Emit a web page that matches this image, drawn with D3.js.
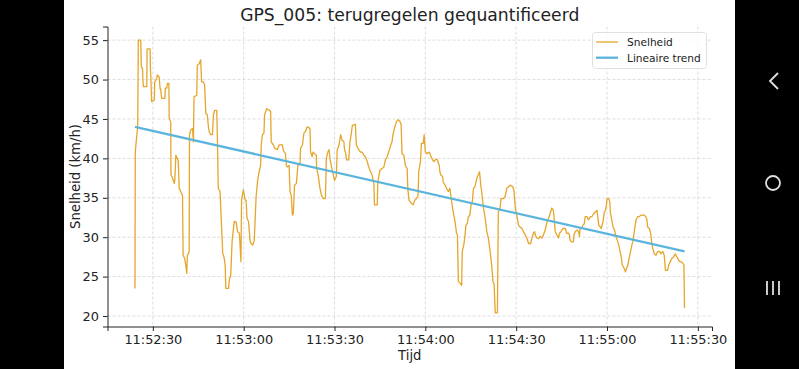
<!DOCTYPE html>
<html><head><meta charset="utf-8">
<script src="https://cdn.jsdelivr.net/npm/d3@7"></script>
<style>body{margin:0;background:#000}svg{display:block}text{font-family:"DejaVu Sans",sans-serif}</style>
</head><body>
<svg id="c" width="799" height="369"></svg>
<script>
// seconds after 11:52:00
const secs = [24.1,24.2,24.5,25.0,25.2,26.0,26.2,26.6,26.7,26.9,28.0,28.1,29.1,29.2,29.3,29.6,30.5,30.6,31.0,31.3,31.5,32.1,32.4,32.6,32.9,34.0,34.1,34.6,34.8,35.3,35.4,35.9,36.0,36.5,37.1,37.3,37.6,38.1,38.4,38.7,39.2,39.8,40.0,40.5,40.9,41.2,41.4,42.0,42.1,42.5,43.1,43.4,43.6,44.5,44.7,45.3,45.8,46.1,46.7,47.1,47.5,48.0,48.3,48.6,49.1,49.7,50.0,50.4,51.1,51.3,51.6,52.2,52.6,53.1,53.5,53.9,54.1,55.0,55.3,55.7,56.2,56.9,57.5,58.0,58.6,59.1,59.3,59.9,60.5,60.8,61.1,61.6,62.1,62.4,63.0,63.5,64.1,64.6,65.1,65.6,65.8,66.2,66.7,66.9,67.6,68.9,69.1,69.8,70.2,71.1,71.7,72.8,73.1,73.8,74.1,74.4,75.0,75.3,75.7,76.1,76.4,76.8,77.4,77.9,78.6,78.8,79.4,79.9,80.4,81.0,81.9,82.1,82.6,82.9,83.4,84.0,84.1,84.6,85.2,85.7,86.3,87.0,87.3,87.8,88.2,88.5,88.9,89.6,90.0,90.6,90.9,91.5,92.0,92.5,93.1,93.3,93.6,94.0,94.7,95.1,95.5,95.9,96.9,97.2,98.0,98.6,99.1,99.7,100.2,100.8,101.3,101.9,102.4,103.0,103.2,104.1,104.3,105.0,105.7,106.3,106.8,107.4,107.9,108.5,109.0,109.3,109.8,110.4,110.9,111.6,112.0,112.3,112.9,113.4,114.0,114.2,114.6,115.4,116.0,116.5,117.1,117.6,117.8,118.4,118.7,119.3,119.6,120.0,120.6,121.3,121.7,122.4,122.8,123.5,124.0,124.3,124.6,124.8,125.1,125.7,125.9,126.5,127.0,127.6,128.1,128.7,129.0,129.4,129.8,130.3,130.6,130.9,131.4,132.0,132.2,132.7,133.1,133.4,133.9,134.2,134.7,135.1,135.5,135.9,136.4,136.7,137.2,137.5,137.9,138.3,138.6,139.2,139.7,140.3,140.8,141.4,142.0,142.3,142.7,143.1,143.8,144.1,144.7,145.0,145.8,146.3,146.9,147.5,148.0,148.9,149.3,149.7,150.2,150.8,151.3,151.9,152.4,153.0,153.5,154.1,154.8,155.2,155.7,156.1,156.3,156.8,157.4,157.9,158.5,159.0,159.6,160.1,160.7,161.2,161.8,162.3,162.5,162.9,163.4,164.0,164.3,164.8,165.4,166.2,166.7,167.3,167.6,167.8,168.4,168.9,169.1,169.5,170.0,170.6,170.9,171.1,171.7,172.0,172.5,172.8,173.4,173.9,174.5,175.0,175.6,176.1,176.7,177.3,177.8,178.1,178.7,179.1,179.5,179.8,180.0,180.6,180.9,181.1,181.7,182.0,182.5,182.8,183.4,183.9,184.3,184.7,185.0,185.6,186.1,186.5,186.9,187.3,187.8,188.2,188.5,189.0,189.3,189.6,190.1,190.6,191.2,191.7,192.3,192.8,193.2,193.4,194.0,194.5,194.8,195.1,195.6,196.2,196.7,197.3,197.8,198.4,198.9,199.3,200.0,200.4,200.9,201.4,202.0,202.5,202.8,203.4,203.9,204.5,205.0,205.4,205.6];
// Snelheid (km/h)
const speed = [23.5,40.8,42.1,44.0,55.0,55.0,51.6,51.4,50.0,49.1,49.1,53.9,53.9,51.4,50.6,47.2,47.4,49.7,49.9,50.2,50.6,50.3,48.8,48.8,47.6,47.6,48.9,48.9,49.5,49.5,45.1,44.6,37.9,37.5,36.8,37.5,40.4,40.0,39.6,36.2,35.8,35.3,27.7,27.3,26.4,25.4,27.7,28.1,43.0,43.6,43.8,42.1,47.8,48.0,51.8,52.0,52.5,49.7,49.7,49.3,45.7,45.5,44.2,43.4,43.0,43.0,45.5,46.1,46.1,43.0,36.2,35.8,32.2,27.9,27.5,26.4,23.5,23.5,24.8,25.0,29.6,32.0,31.9,30.7,30.5,26.9,34.7,36.0,34.7,34.7,32.4,32.0,29.6,29.2,29.0,29.6,35.1,37.2,38.3,39.1,41.7,43.0,43.2,45.5,46.3,46.0,42.1,41.7,41.3,41.1,41.7,41.7,41.0,40.6,39.1,38.9,39.1,35.8,35.3,32.8,33.0,36.6,36.8,39.1,39.3,41.3,41.7,43.2,43.4,44.0,43.8,40.8,40.2,40.8,40.6,40.4,38.7,37.9,36.2,35.3,34.9,34.9,40.0,40.8,41.1,40.0,39.1,37.9,37.2,37.7,41.1,41.7,43.0,42.3,42.1,41.1,40.8,39.8,39.8,42.1,43.0,44.2,44.3,41.7,41.1,40.8,40.8,40.4,40.2,39.6,38.9,38.3,37.9,36.8,34.1,34.1,37.0,38.5,38.7,38.9,39.8,40.2,40.8,41.6,42.1,43.0,43.8,44.6,44.9,44.7,44.3,40.6,40.4,39.1,38.7,36.2,34.7,34.3,34.1,34.7,34.9,35.3,38.3,39.6,41.9,41.9,43.0,40.8,40.6,40.8,40.4,39.8,39.6,39.9,39.8,39.4,39.1,38.3,37.9,37.7,37.0,36.6,36.2,35.8,36.2,34.5,33.7,32.8,32.0,30.5,30.3,24.4,24.2,23.9,28.2,29.0,30.3,31.5,31.8,32.6,32.8,34.1,34.5,36.2,36.4,37.0,37.7,37.9,38.3,36.6,35.8,33.7,32.6,30.7,29.9,28.2,26.1,24.4,24.0,20.4,20.4,33.2,33.7,34.9,34.9,35.1,36.2,36.4,36.6,36.4,35.8,33.7,32.8,31.5,31.3,31.1,30.7,30.3,29.9,29.2,29.2,29.9,30.5,30.7,30.3,29.9,29.8,30.1,29.9,30.3,30.9,31.8,32.4,33.0,33.7,33.4,32.6,30.7,30.3,29.9,30.5,30.7,31.1,31.1,30.5,30.5,30.3,29.6,29.4,29.4,30.3,30.7,30.9,30.7,30.1,31.1,31.1,31.5,31.7,32.6,32.6,32.2,32.6,32.6,33.0,33.2,33.4,31.5,31.3,31.1,32.0,33.2,33.4,34.1,34.9,34.9,34.5,33.2,31.9,31.3,30.9,30.3,29.6,29.0,28.2,27.5,26.5,26.1,25.6,26.1,26.5,27.3,28.2,29.0,29.4,30.7,31.5,32.2,32.6,32.6,32.8,32.8,32.8,32.6,32.2,31.3,31.1,30.3,29.2,28.6,27.9,27.7,28.2,28.2,27.9,28.2,27.7,25.8,25.8,26.5,26.9,27.3,27.5,27.9,27.7,27.3,26.9,26.9,26.7,26.5,21.0];
// Lineaire trend: value at first and last sample
const trendValues = [44.0, 28.2];
const xTickLabels = ["11:52:30","11:53:00","11:53:30","11:54:00","11:54:30","11:55:00","11:55:30"];
const yTicks = [20,25,30,35,40,45,50,55];
const legendLabels = ["Snelheid","Lineaire trend"];
const colors = ["#E5A62B","#5BB4DC"];

const base = new Date(2024,0,1,11,52,0);
const toDate = s => new Date(base.getTime() + s*1000);
const n = Math.min(secs.length, speed.length);
const data = d3.range(n).map(i => ({t: toDate(secs[i]), v: speed[i]}));

const svg = d3.select("#c");
// phone frame
svg.append("rect").attr("x",0).attr("y",0).attr("width",799).attr("height",369).attr("fill","#000");
svg.append("rect").attr("x",64).attr("y",0).attr("width",671).attr("height",369).attr("fill","#fff");

const L=107.5, R=712, T=26.5, B=326.5;
const tExt = d3.extent(data, d=>d.t);
const tPad = (tExt[1]-tExt[0])*0.05;
const x = d3.scaleTime().domain([new Date(+tExt[0]-tPad), new Date(+tExt[1]+tPad)]).range([L,R]);
const vExt = d3.extent(data, d=>d.v);
const vPad = (vExt[1]-vExt[0])*0.05;
const y = d3.scaleLinear().domain([vExt[0]-vPad, vExt[1]+vPad]).range([B,T]);

const parseT = d3.timeParse("%H:%M:%S");
const xTicks = xTickLabels.map(s => { const p = parseT(s); return new Date(2024,0,1,p.getHours(),p.getMinutes(),p.getSeconds()); });

// grid
const g = svg.append("g");
g.selectAll(".gx").data(xTicks).join("line")
 .attr("x1",d=>x(d)).attr("x2",d=>x(d)).attr("y1",T).attr("y2",B)
 .attr("stroke","#d4d4d4").attr("stroke-width",0.8).attr("stroke-dasharray","3,2");
g.selectAll(".gy").data(yTicks).join("line")
 .attr("x1",L).attr("x2",R).attr("y1",d=>y(d)).attr("y2",d=>y(d))
 .attr("stroke","#d4d4d4").attr("stroke-width",0.8).attr("stroke-dasharray","3,2");

// axes
const xAxis = d3.axisBottom(x).tickValues(xTicks).tickFormat((d,i)=>xTickLabels[i]).tickSizeOuter(0).tickSize(4.5).tickPadding(4);
const yAxis = d3.axisLeft(y).tickValues(yTicks).tickFormat(d3.format("d")).tickSizeOuter(0).tickSize(4.5).tickPadding(4);
const ax = svg.append("g").attr("transform",`translate(0,${B})`).call(xAxis);
const ay = svg.append("g").attr("transform",`translate(${L},0)`).call(yAxis);
[ax,ay].forEach(a=>{
  a.select(".domain").attr("stroke","#222").attr("stroke-width",1);
  a.selectAll(".tick line").attr("stroke","#222").attr("stroke-width",1);
  a.selectAll(".tick text").attr("fill","#222").style("font-size","12.9px").style("font-family","DejaVu Sans");
});

// series
svg.append("path").datum(data)
 .attr("fill","none").attr("stroke",colors[0]).attr("stroke-width",1.3).attr("stroke-linejoin","round")
 .attr("d", d3.line().x(d=>x(d.t)).y(d=>y(d.v)));
svg.append("line")
 .attr("x1",x(tExt[0])).attr("y1",y(trendValues[0]))
 .attr("x2",x(tExt[1])).attr("y2",y(trendValues[1]))
 .attr("stroke",colors[1]).attr("stroke-width",2.3).attr("stroke-linecap","butt");

// title and labels
svg.append("text").attr("x",(L+R)/2).attr("y",21).attr("text-anchor","middle")
 .style("font-size","17.2px").attr("fill","#222").text("GPS_005: terugregelen gequantificeerd");
svg.append("text").attr("x",(L+R)/2).attr("y",360).attr("text-anchor","middle")
 .style("font-size","13.2px").attr("fill","#222").text("Tijd");
svg.append("text").attr("transform",`translate(80,${(T+B)/2}) rotate(-90)`).attr("text-anchor","middle")
 .style("font-size","13.2px").attr("fill","#222").text("Snelheid (km/h)");

// legend
const lg = svg.append("g");
lg.append("rect").attr("x",592.5).attr("y",32.5).attr("width",114).attr("height",36).attr("rx",3)
 .attr("fill","#fff").attr("fill-opacity",0.8).attr("stroke","#d8d8d8").attr("stroke-width",0.8);
legendLabels.forEach((lab,i)=>{
  const yy = 42 + i*15.7;
  lg.append("line").attr("x1",596).attr("x2",618).attr("y1",yy).attr("y2",yy)
    .attr("stroke",colors[i]).attr("stroke-width", i===0?1.3:2.3);
  lg.append("text").attr("x",627).attr("y",yy+3.8).style("font-size","10.6px").attr("fill","#222").text(lab);
});

// android nav icons
const nav = svg.append("g").attr("stroke","#e0e0e0").attr("fill","none").attr("stroke-width",1.8);
nav.append("path").attr("d","M778,73 L770,81 L778,89");
nav.append("circle").attr("cx",773).attr("cy",183).attr("r",7);
[767,773,779].forEach(xx=>nav.append("line").attr("x1",xx).attr("x2",xx).attr("y1",281).attr("y2",295));
</script>
</body></html>
